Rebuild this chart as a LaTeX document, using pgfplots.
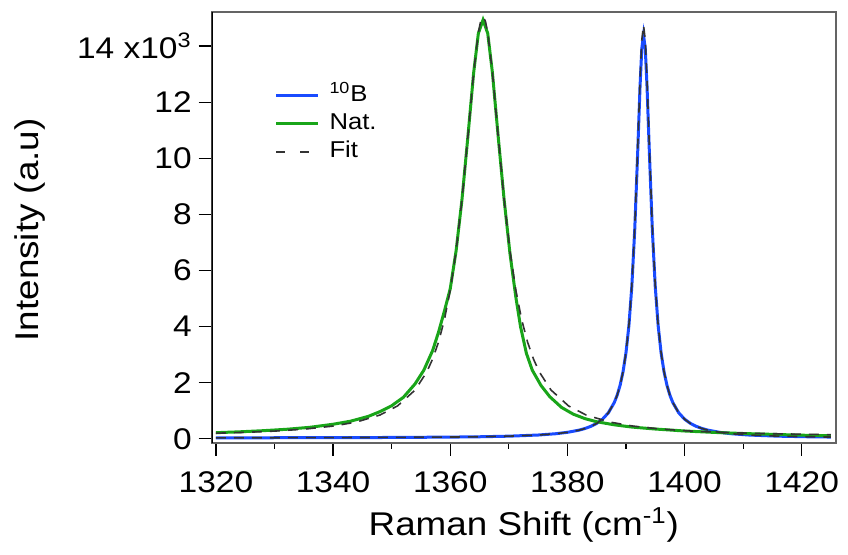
\documentclass[border=0pt]{standalone}
\usepackage{fontspec}
\setmainfont[FakeStretch=1.12]{Liberation Sans}
\usepackage{pgfplots}
\pgfplotsset{compat=1.18}
\usepackage{pgfplotstable}
\definecolor{bblue}{RGB}{25,75,255}
\definecolor{ngreen}{RGB}{25,165,25}
\definecolor{framegray}{RGB}{100,100,100}

\pgfplotstableread{
x y
1320 37
1330 39
1340 42
1350 49
1360 62
1365 74
1370 95
1375 136
1378 182
1380 232
1382 310
1383 368
1384 445
1385 551
1386 702
1387 930
1388 1292
1388.5 1556
1389 1909
1389.5 2390
1390 3062
1390.5 4027
1391 5430
1391.5 7462
1392 10190
1392.4 12540
1392.7 13900
1393 14390
1393.3 13900
1393.6 12540
1394 10190
1394.5 7462
1395 5430
1395.5 4027
1396 3062
1396.5 2390
1397 1909
1397.5 1556
1398 1292
1399 930
1400 702
1401 551
1402 445
1403 368
1404 310
1406 232
1408 182
1411 136
1416 95
1421 74
1425 64
}\bten

\pgfplotstableread{
x y
1320 220
1324 250
1328 290
1332 340
1336 410
1340 520
1343 630
1346 800
1348 970
1350 1180
1352 1480
1354 1960
1355.5 2450
1357 3150
1358 3800
1359 4550
1360 5350
1361 6700
1362 8520
1363 10740
1364 13050
1364.8 14450
1365.6 14930
1366.4 14450
1367.2 13050
1368.2 10740
1369.2 8520
1370.2 6600
1371.2 5050
1372 4000
1373 3050
1374 2450
1375.5 1900
1377 1500
1379 1120
1381 880
1383 720
1385 610
1388 500
1391 420
1395 350
1400 280
1405 230
1410 190
1415 160
1420 130
1425 110
}\nat

\pgfplotstableread{
x y
1320 200
1325 231
1330 276
1335 344
1340 454
1344 600
1348 849
1351 1173
1354 1740
1356 2386
1357 2849
1358 3450
1359 4243
1360 5296
1361 6698
1362 8522
1363 10743
1364 13057
1364.8 14482
1365.2 14889
1365.6 15030
1366.0 14889
1366.4 14482
1367.2 13057
1368.2 10743
1369.2 8522
1370.2 6698
1371.2 5296
1372.2 4243
1373.2 3450
1374.2 2849
1375.2 2386
1377.2 1740
1380.2 1173
1383.2 849
1387.2 600
1391.2 454
1396.2 344
1401.2 276
1406.2 231
1411.2 200
1416.2 178
1421.2 161
1425 151
}\fitnat

\pgfplotstableread{
x y
1320 36
1330 40
1340 44
1350 52
1360 64
1365 75
1370 96
1375 135
1378 182
1380 232
1382 309
1383 367
1384 443
1385 549
1386 701
1387 929
1388 1290
1388.5 1555
1389 1909
1389.5 2392
1390 3068
1390.5 4041
1391 5464
1391.5 7536
1392 10344
1392.4 12788
1392.7 14206
1393 14750
1393.3 14206
1393.6 12788
1394 10344
1394.5 7536
1395 5464
1395.5 4041
1396 3068
1396.5 2392
1397 1909
1397.5 1555
1398 1290
1399 929
1400 701
1401 549
1402 443
1403 367
1404 309
1406 232
1408 182
1411 135
1416 96
1421 75
1425 64
}\fitb

\begin{document}
\begin{tikzpicture}
\path[use as bounding box] (-105.85bp,-56.15bp) rectangle (318.2bp,221.3bp);
\begin{axis}[
  at={(0,0)}, anchor=south west,
  scale only axis, width=312.2bp, height=215.3bp,
  xmin=1319.27, xmax=1425.86, ymin=-132, ymax=15211,
  axis line style={draw=framegray, line width=1bp},
  xtick={1320,1340,...,1420}, minor xtick={1330,1350,...,1410},
  ytick={0,2000,...,14000},
  scaled y ticks=false, scaled x ticks=false,
  yticklabels={0,2,4,6,8,10,12,{14 x10\textsuperscript{3}}},
  tick align=outside, tick pos=left,
  major tick length=6.5bp, minor tick length=3bp,
  tick style={black, line width=0.6bp},
  /pgf/number format/assume math mode=true,
  /pgf/number format/1000 sep={},
  ticklabel style={font=\fontsize{15}{18}\selectfont},
  xticklabel style={yshift=-4.5bp},
  xlabel={Raman Shift (cm\textsuperscript{-1})},
  ylabel={Intensity (a.u)},
  label style={font=\fontsize{16.5}{20}\selectfont},
  xlabel style={at={(axis description cs:0.5,-0.192)}, anchor=center},
  ylabel style={at={(axis description cs:-0.291,0.494)}, anchor=center},
  legend image code/.code={\draw[#1] (0bp,0bp) -- (21bp,0bp); \path (24bp,0bp);},
  legend cell align=left,
  legend style={draw=none, fill=none, at={(axis description cs:0.1,0.839)}, anchor=north west,
    font=\fontsize{11.5}{14}\selectfont, row sep=0bp, inner sep=0pt,
    nodes={text height=9bp, text depth=3bp, inner sep=1bp, inner xsep=2bp}},
]
\addlegendimage{bblue, line width=1.5bp}
\addlegendentry{\textsuperscript{10}B}
\addlegendimage{ngreen, line width=1.5bp}
\addlegendentry{Nat.}
\addlegendimage{black!80, line width=0.8bp, dash pattern=on 4.5bp off 7.5bp}
\addlegendentry{Fit}
\addplot[bblue, line width=1.5bp, forget plot] table {\bten};
\addplot[ngreen, line width=1.5bp, forget plot] table {\nat};
\addplot[black!80, line width=0.8bp, dash pattern=on 5bp off 4bp, forget plot] table {\fitnat};
\addplot[black!80, line width=0.8bp, dash pattern=on 5bp off 4bp, forget plot] table {\fitb};
\draw[black, line width=1bp] (rel axis cs:0,0) -- (rel axis cs:0,1);
\end{axis}
\end{tikzpicture}
\end{document}
